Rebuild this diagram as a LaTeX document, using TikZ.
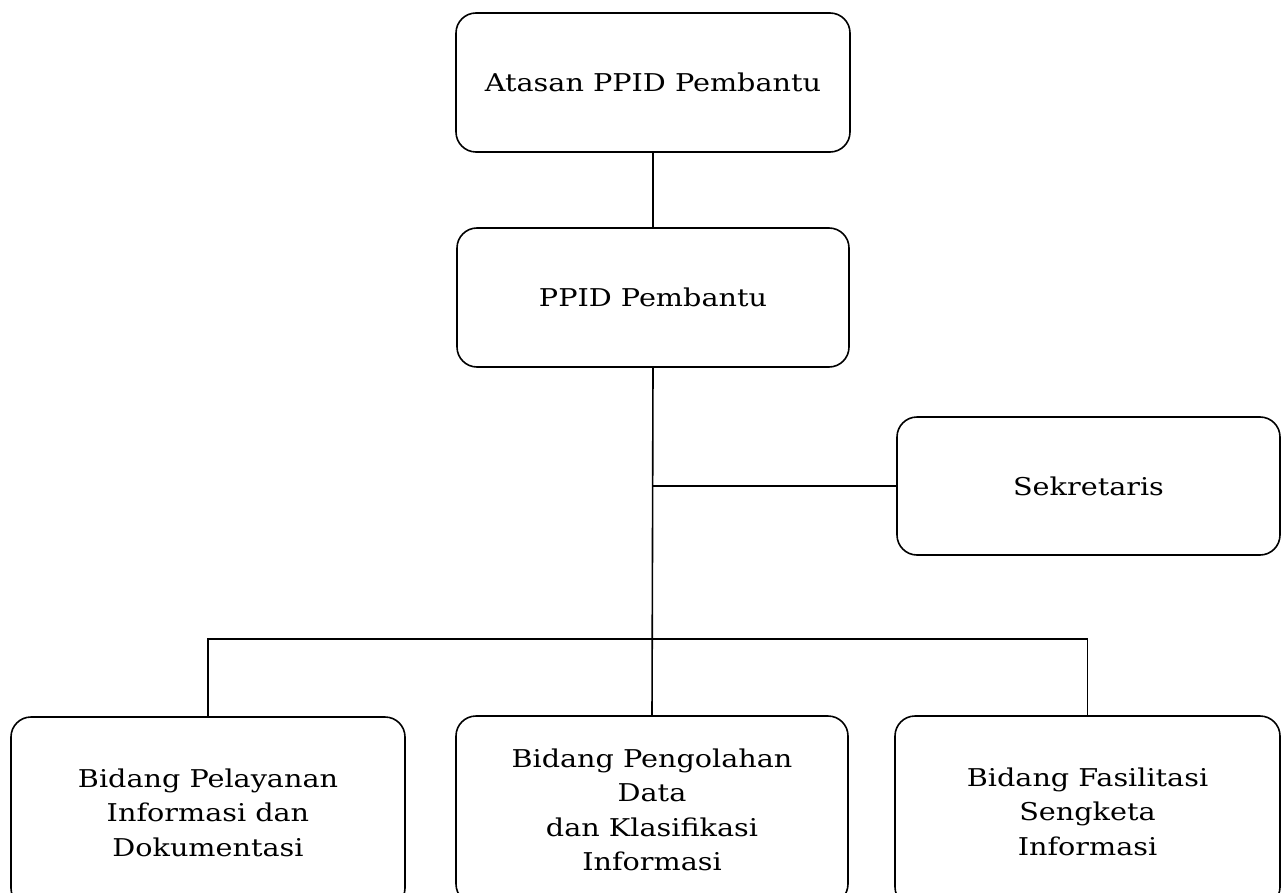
\documentclass[tikz,border=0pt]{standalone}
\usepackage{fontspec}
\setmainfont{DejaVu Serif}[FakeStretch=1.17]
\begin{document}
\begin{tikzpicture}[x=1pt,y=-1pt,
  box/.style={draw=black,line width=1.6pt,rounded corners=20pt,inner sep=0pt,
    align=center,font=\fontsize{24.5}{34.5}\selectfont},
  link/.style={draw=black,line width=1.6pt}]
\useasboundingbox (0,0) rectangle (1281,893);
\node[box,minimum width=394pt,minimum height=139pt] (top) at (653,82.5) {Atasan PPID Pembantu};
\node[box,minimum width=392pt,minimum height=139pt] (pp) at (653,297.5) {PPID Pembantu};
\node[box,minimum width=383pt,minimum height=138pt] (sek) at (1088.5,486) {Sekretaris};
\node[box,minimum width=394pt,minimum height=191pt] (left) at (208,812.5) {Bidang Pelayanan\\Informasi dan\\Dokumentasi};
\node[box,minimum width=392pt,minimum height=188pt] (mid) at (652,810) {Bidang Pengolahan\\Data\\dan Klasifikasi\\Informasi};
\node[box,minimum width=385pt,minimum height=191pt] (right) at (1087.5,811.5) {Bidang Fasilitasi\\Sengketa\\Informasi};
\coordinate (bar) at (652,639);
\draw[link] (top.south) -- (pp.north);
\draw[link] (pp.south) -- (mid.north);
\draw[link] (sek.west) -- (pp.south |- sek.west);
\draw[link] (left.north) -- (left.north |- bar) -- (right.north |- bar) -- (right.north);
\end{tikzpicture}
\end{document}
